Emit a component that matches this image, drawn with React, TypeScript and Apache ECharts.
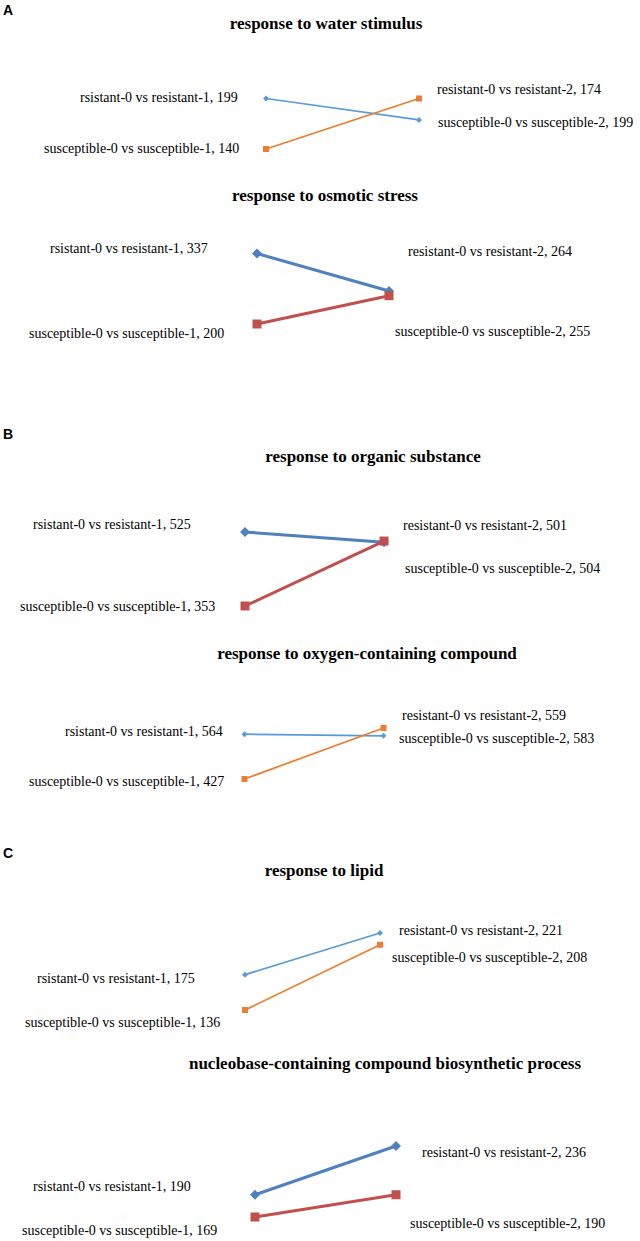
import React, { useEffect, useRef } from "react";
import * as echarts from "echarts";

// ---- data ----
const panelTitles = [
  "response to water stimulus",
  "response to osmotic stress",
  "response to organic substance",
  "response to oxygen-containing compound",
  "response to lipid",
  "nucleobase-containing compound biosynthetic process",
];
const panelLetters = ["A", "B", "C"];
const xCategories = ["comparison 1", "comparison 2"];
const resistant1 = [199, 337, 525, 564, 175, 190];
const resistant2 = [174, 264, 501, 559, 221, 236];
const susceptible1 = [140, 200, 353, 427, 136, 169];
const susceptible2 = [199, 255, 504, 583, 208, 190];

// ---- layout (positions only) ----
const grids = [
  { left: 266, width: 153, top: 98.5, height: 50.5 },
  { left: 257, width: 132, top: 253.5, height: 70.5 },
  { left: 245, width: 139, top: 532, height: 74 },
  { left: 244.5, width: 139, top: 728, height: 51 },
  { left: 245, width: 135, top: 933, height: 77 },
  { left: 255, width: 141, top: 1146, height: 71 },
];
const titlePos = [
  [326, 23],
  [325, 195],
  [373, 456],
  [367, 653],
  [324, 870],
  [385, 1063],
];
const letterPos = [
  [3, 10],
  [3, 434],
  [3, 853],
];
// [leftR, leftS, rightR, rightS] each [x, y]
const labelPos = [
  [[80, 97], [44, 148], [437, 89], [438, 122]],
  [[50, 248], [29, 333], [408, 251], [395, 331]],
  [[33, 524], [20, 606], [403, 525], [405, 568]],
  [[65, 731], [29, 781], [402, 715], [399, 738]],
  [[37, 978], [25, 1022], [399, 930], [392, 957]],
  [[33, 1186], [22, 1230], [422, 1152], [410, 1223]],
];
const thick = [false, true, true, false, false, true];

const THIN_BLUE = "#5B9BD5";
const THIN_ORANGE = "#ED7D31";
const THICK_BLUE = "#4F81BD";
const THICK_RED = "#C0504D";

function txt(text: string, x: number, y: number, font: string, align = "left") {
  return {
    type: "text",
    x,
    y,
    silent: true,
    style: {
      text,
      font,
      fill: "#000",
      textAlign: align,
      align,
      textVerticalAlign: "middle",
      verticalAlign: "middle",
    },
  };
}

export default function App() {
  const ref = useRef<HTMLDivElement>(null);
  useEffect(() => {
    document.body.style.margin = "0";
    if (!ref.current) return;
    const chart = echarts.init(ref.current, null, { renderer: "svg" });
    const series: any[] = [];
    const graphic: any[] = [];
    const labelFont = '14px "Liberation Serif"';
    const titleFont = 'bold 17px "Liberation Serif"';
    for (let i = 0; i < 6; i++) {
      const isThick = thick[i];
      const blue = isThick ? THICK_BLUE : THIN_BLUE;
      const other = isThick ? THICK_RED : THIN_ORANGE;
      const lw = isThick ? 3 : 1.75;
      series.push({
        type: "line",
        xAxisIndex: i,
        yAxisIndex: i,
        data: [resistant1[i], resistant2[i]],
        symbol: "diamond",
        symbolSize: isThick ? 10 : 6,
        showSymbol: true,
        lineStyle: { color: blue, width: lw },
        itemStyle: { color: blue },
        z: 2,
      });
      series.push({
        type: "line",
        xAxisIndex: i,
        yAxisIndex: i,
        data: [susceptible1[i], susceptible2[i]],
        symbol: "rect",
        symbolSize: isThick ? 9 : 6,
        showSymbol: true,
        lineStyle: { color: other, width: lw },
        itemStyle: { color: other },
        z: 3,
      });
      graphic.push(txt(panelTitles[i], titlePos[i][0], titlePos[i][1], titleFont, "center"));
      const lp = labelPos[i];
      graphic.push(txt(`rsistant-0 vs resistant-1, ${resistant1[i]}`, lp[0][0], lp[0][1], labelFont));
      graphic.push(txt(`susceptible-0 vs susceptible-1, ${susceptible1[i]}`, lp[1][0], lp[1][1], labelFont));
      graphic.push(txt(`resistant-0 vs resistant-2, ${resistant2[i]}`, lp[2][0], lp[2][1], labelFont));
      graphic.push(txt(`susceptible-0 vs susceptible-2, ${susceptible2[i]}`, lp[3][0], lp[3][1], labelFont));
    }
    panelLetters.forEach((l, k) => {
      graphic.push(txt(l, letterPos[k][0], letterPos[k][1], 'bold 14px "Liberation Sans"'));
    });
    chart.setOption({
      animation: false,
      backgroundColor: "#ffffff",
      grid: grids.map((g) => ({ ...g, containLabel: false })),
      xAxis: grids.map((_, i) => ({
        type: "category",
        gridIndex: i,
        data: xCategories,
        boundaryGap: false,
        show: false,
      })),
      yAxis: grids.map((_, i) => ({
        type: "value",
        gridIndex: i,
        min: "dataMin",
        max: "dataMax",
        show: false,
      })),
      tooltip: { show: false },
      series,
      graphic,
    });
    return () => chart.dispose();
  }, []);
  return <div ref={ref} style={{ width: 640, height: 1241, background: "#fff" }} />;
}
